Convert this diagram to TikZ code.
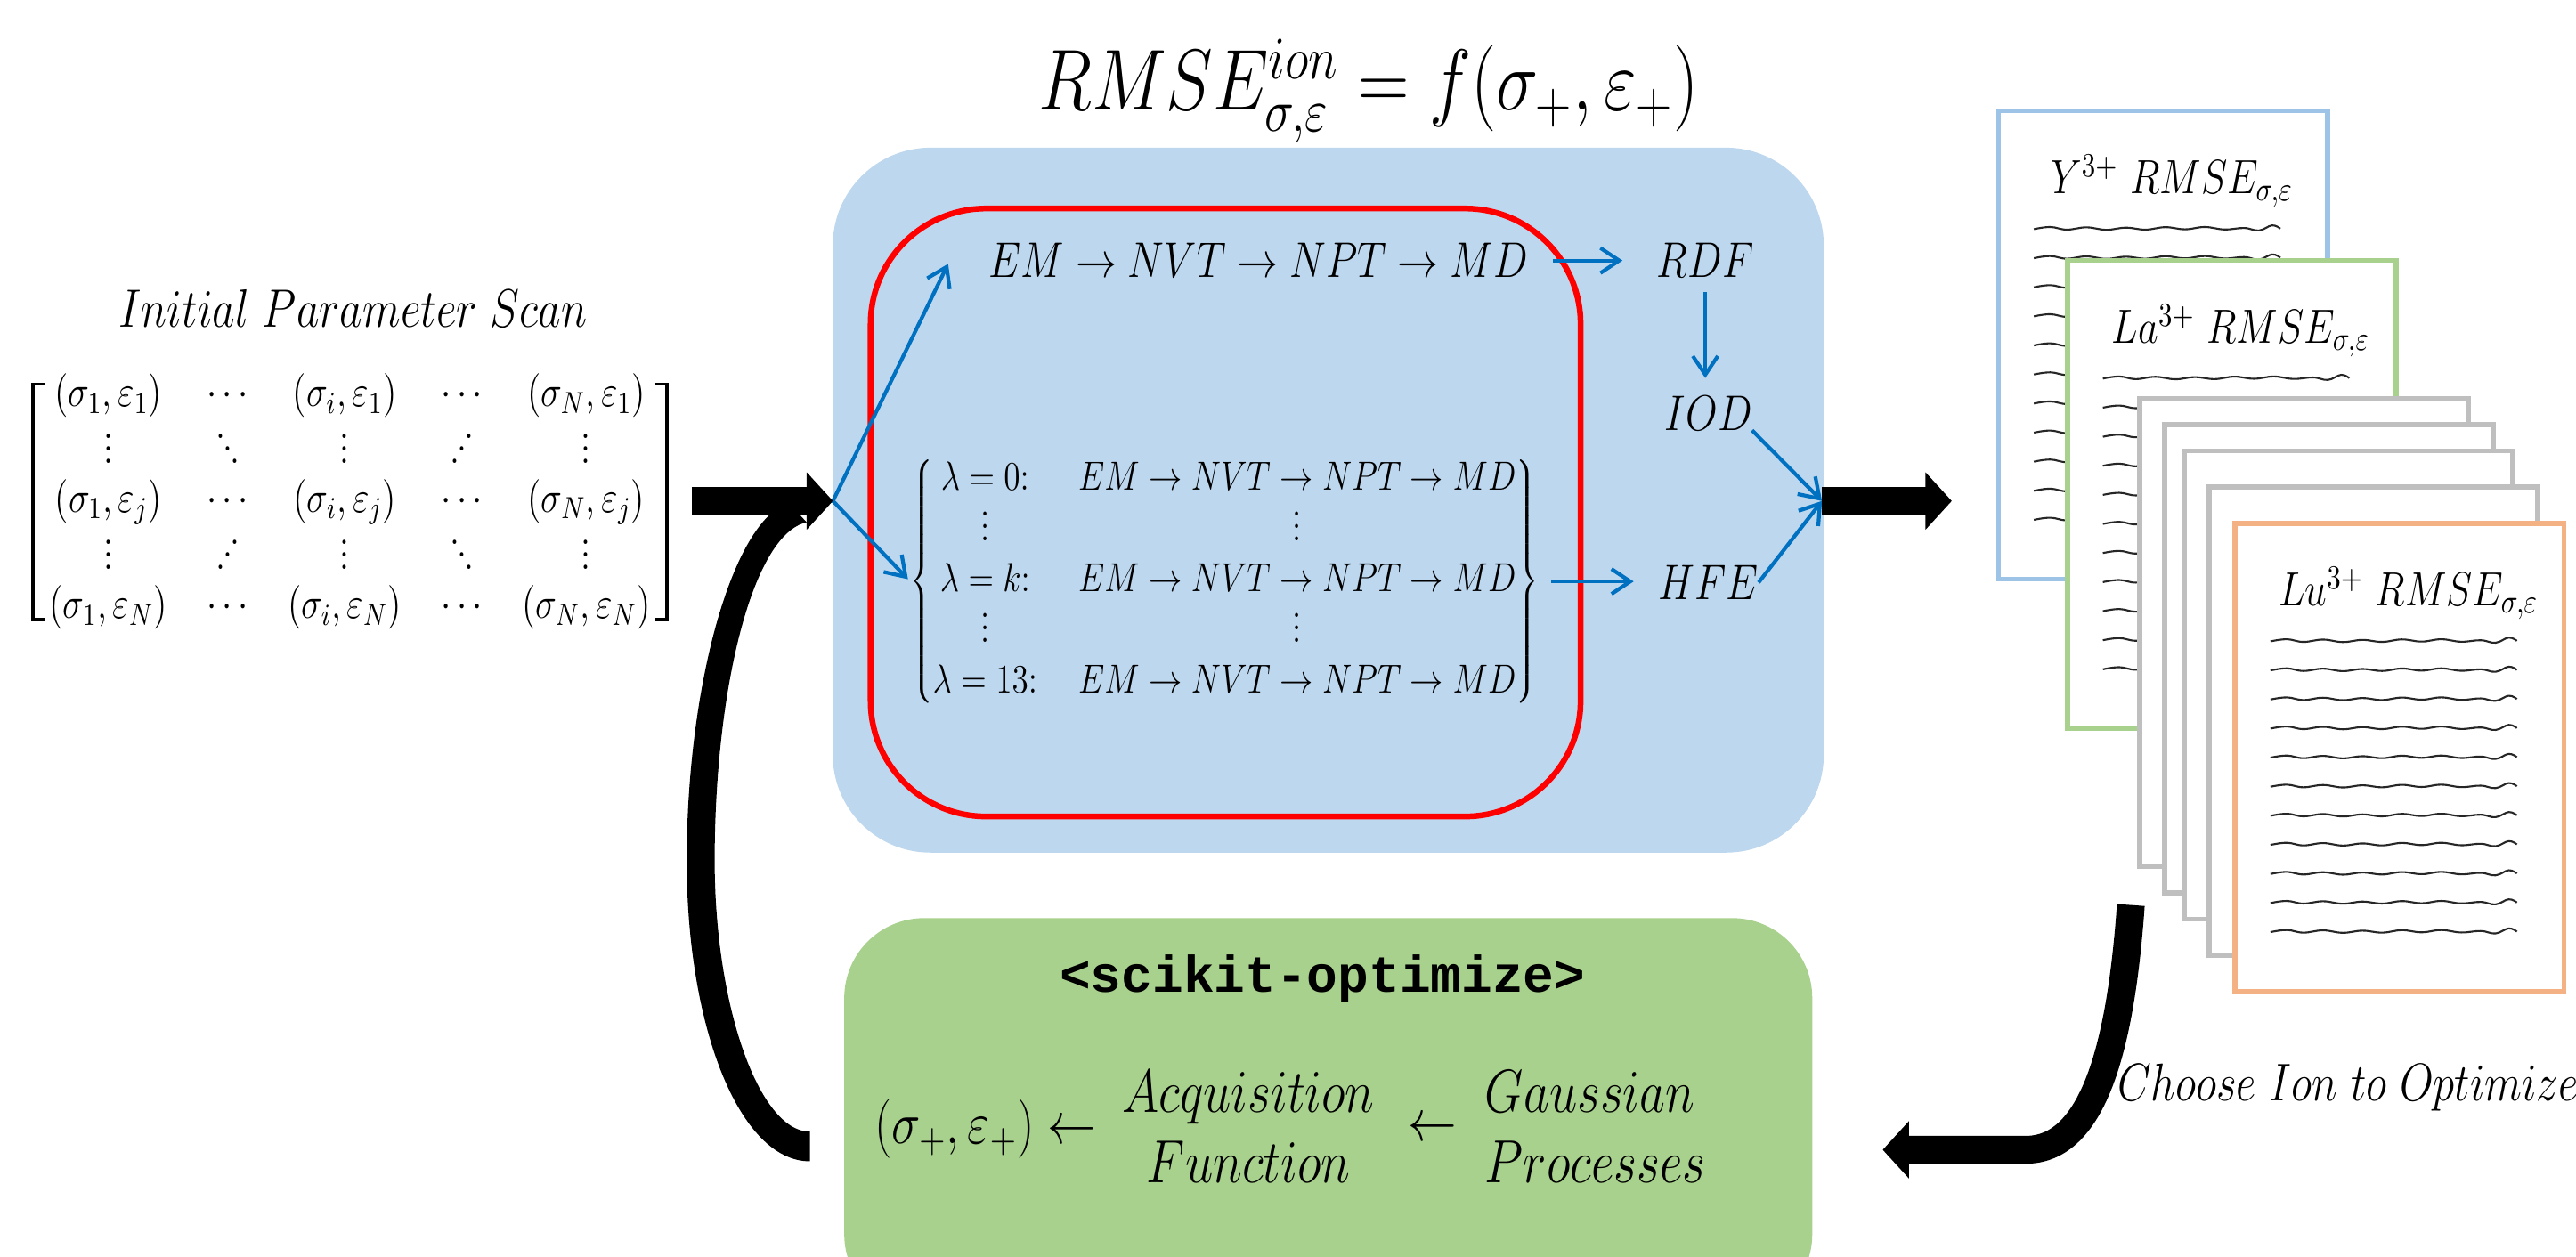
\RequirePackage{fix-cm}
\documentclass[tikz,border=0pt]{standalone}
\usepackage{fontspec}
\usepackage{graphicx}
\usetikzlibrary{arrows.meta,matrix}
\newfontfamily\monob{Liberation Mono}
\definecolor{boxblue}{HTML}{BDD7EE}
\definecolor{boxgreen}{HTML}{A9D18E}
\definecolor{arrblue}{HTML}{0070C0}
\definecolor{pblue}{HTML}{9DC3E6}
\definecolor{pgreen}{HTML}{A9D18E}
\definecolor{pgray}{HTML}{BFBFBF}
\definecolor{porange}{HTML}{F4B183}
\newcommand\cmx[1]{\scalebox{0.82}[1]{$#1$}}
\newcommand\fsz[1]{\fontsize{#1}{#1}\selectfont}
\newcommand\tvdots{\vbox{\baselineskip4pt\lineskiplimit0pt\hbox{.}\hbox{.}\hbox{.}}}
\newcommand\tddots{\hbox{\raise8pt\hbox{.}\kern-1pt\raise4pt\hbox{.}\kern-1pt\hbox{.}}}
\newcommand\tiddots{\hbox{\hbox{.}\kern-1pt\raise4pt\hbox{.}\kern-1pt\raise8pt\hbox{.}}}
\newcommand\mkpaper[5]{%
  \node[paperbox,draw=#4] (#1) at (#2,#3) {};
  \foreach \k in {0,...,10}{%
    \draw[wav,shift={(#2+23,#3+73+17.7*\k)}] plot[smooth,tension=0.7] coordinates {(0,0.5) (10,-0.8) (20,0.8) (32,-0.6) (44,0.9) (56,-0.4) (68,0.8) (80,-0.7) (92,0.6) (104,-0.8) (116,0.7) (128,-0.2) (137,1.3) (145,-1.8) (150,0.2)};}
  \node[lbl,anchor=base] (#1t) at (#2+107,#3+52) {\fsz{15.4}\cmx{#5}};
}
\begin{document}
\begin{tikzpicture}[x=0.0185cm,y=-0.0185cm,
  lbl/.style={inner sep=0pt,outer sep=0pt},
  barrow/.style={draw=arrblue,line width=1.2pt,-{Straight Barb[length=6pt 0 0,width=8pt 0 0]}},
  fat/.style={draw=black,line width=8.9pt},
  fattip/.style={-{Triangle[length=8.4pt 0 0,width=17.9pt 0 0]}},
  paperbox/.style={anchor=north west,fill=white,line width=1.6pt,inner sep=0pt,minimum width=3.7cm,minimum height=5.2725cm},
  wav/.style={line width=0.6pt,black!85},
]
\useasboundingbox (0,0) rectangle (1568,765);
\clip (0,0) rectangle (1568,765);

% main boxes
\node[lbl,fill=boxblue,rounded corners=1.1cm,minimum width=11.155cm,minimum height=7.937cm] (sim) at (808.5,304.5) {};
\node[lbl,draw=red,line width=1.85pt,rounded corners=1.3cm,minimum width=7.992cm,minimum height=6.845cm] (loop) at (746,312) {};
\node[lbl,fill=boxgreen,rounded corners=0.9cm,minimum width=10.8965cm,minimum height=4.4585cm] (skopt) at (808.5,679.5) {};

% title
\node[lbl,anchor=base] (title) at (833,67) {\fsz{27.7}\cmx{RMSE^{ion}_{\sigma,\varepsilon}=f(\sigma_+,\varepsilon_+)}};

% initial scan
\node[lbl,anchor=base] (scan) at (215,199) {\fsz{17.3}\cmx{Initial\ Parameter\ Scan}};
\matrix (mat) [matrix of nodes,inner sep=0pt,column sep=0.0765cm,row sep=0.0466cm,
  nodes={lbl,anchor=center,minimum width=1.2cm,minimum height=0.55cm,font=\fsz{14}}] at (213,305.5) {
\cmx{(\sigma_1,\varepsilon_1)} & \cmx{\cdots} & \cmx{(\sigma_i,\varepsilon_1)} & \cmx{\cdots} & \cmx{(\sigma_N,\varepsilon_1)} \\
\cmx{\tvdots} & \cmx{\tddots} & \cmx{\tvdots} & \cmx{\tiddots} & \cmx{\tvdots} \\
\cmx{(\sigma_1,\varepsilon_j)} & \cmx{\cdots} & \cmx{(\sigma_i,\varepsilon_j)} & \cmx{\cdots} & \cmx{(\sigma_N,\varepsilon_j)} \\
\cmx{\tvdots} & \cmx{\tiddots} & \cmx{\tvdots} & \cmx{\tddots} & \cmx{\tvdots} \\
\cmx{(\sigma_1,\varepsilon_N)} & \cmx{\cdots} & \cmx{(\sigma_i,\varepsilon_N)} & \cmx{\cdots} & \cmx{(\sigma_N,\varepsilon_N)} \\
};
\draw[line width=1pt] ([shift={(-2.5,8)}]mat.north west) -- ([shift={(-9.5,8)}]mat.north west) -- ([shift={(-9.5,-8)}]mat.south west) -- ([shift={(-2.5,-8)}]mat.south west);
\draw[line width=1pt] ([shift={(2.5,8)}]mat.north east) -- ([shift={(9.5,8)}]mat.north east) -- ([shift={(9.5,-8)}]mat.south east) -- ([shift={(2.5,-8)}]mat.south east);

% simulation contents
\node[lbl,anchor=base] (chain) at (766,169) {\fsz{16}\cmx{EM\to NVT\to NPT\to MD}};
\node[lbl,anchor=west] (sys) at (554,354) {\fontsize{13}{16.3}\selectfont\cmx{\left\{\begin{array}{@{}c@{\hspace{16pt}}c@{}}\lambda=0{:} & EM\to NVT\to NPT\to MD\\ \tvdots & \tvdots\\ \lambda=k{:} & EM\to NVT\to NPT\to MD\\ \tvdots & \tvdots\\ \lambda=13{:} & EM\to NVT\to NPT\to MD\end{array}\right\}}};
\node[lbl,anchor=base] (rdf) at (1038,169) {\fsz{16}\cmx{RDF}};
\node[lbl,anchor=base] (iod) at (1040,262) {\fsz{16}\cmx{IOD}};
\node[lbl,anchor=base] (hfe) at (1040,365) {\fsz{16}\cmx{HFE}};

\coordinate (jin) at (507,305);
\coordinate (jout) at (1109,305);
\coordinate (scanout) at (421,305);
\coordinate (bandtop) at (1297,551);
\coordinate (backtip) at (1146,700);

\draw[barrow] (jin) -- ([shift={(-25,2)}]chain.west);
\draw[barrow,shorten >=1pt] (jin) -- (sys.west);
\draw[barrow,shorten <=8pt,shorten >=11pt] (chain.east) -- (rdf.west);
\draw[barrow,shorten <=4.7pt,shorten >=5.8pt] (rdf.south) -- (rdf.south |- iod.north);
\draw[barrow,shorten <=4pt,shorten >=8pt] (sys.east) -- (sys.east -| hfe.west);
\draw[barrow] (iod.south east) -- (jout);
\draw[barrow] (hfe.east) -- (jout);

% optimizer box contents
\node[lbl,anchor=base] (sko) at (805,604) {\fsz{16.5}\monob\bfseries <scikit-optimize>};
\node[lbl] (sig) at (600,687) {\fsz{19}\cmx{(\sigma_+,\varepsilon_+)\leftarrow}};
\node[lbl,anchor=north,align=center,font=\fontsize{19.5}{22.6}\selectfont] (acq) at (760,652) {\cmx{Acquisition}\\\cmx{Function}};
\node[lbl] (larr) at (872,688) {\fsz{19}\cmx{\leftarrow}};
\node[lbl,anchor=north west,align=left,font=\fontsize{19.5}{22.6}\selectfont] (gp) at (904,652) {\cmx{Gaussian}\\\cmx{Processes}};

% result sheets
\mkpaper{pY}{1215}{66}{pblue}{Y^{3+}\ RMSE_{\sigma,\varepsilon}}
\mkpaper{pLa}{1257}{157}{pgreen}{La^{3+}\ RMSE_{\sigma,\varepsilon}}
\node[paperbox,draw=pgray] (g1) at (1301,241) {};
\node[paperbox,draw=pgray] (g2) at (1316,257) {};
\node[paperbox,draw=pgray] (g3) at (1328,273) {};
\node[paperbox,draw=pgray] (g4) at (1343,295) {};
\mkpaper{pLu}{1359}{317}{porange}{Lu^{3+}\ RMSE_{\sigma,\varepsilon}}
\node[lbl,anchor=base west] (choose) at (1289,670) {\fsz{17}\cmx{Choose\ Ion\ to\ Optimize}};

% thick black arrows
\draw[fat,fattip] (scanout) -- (jin);
\fill (493,707) .. controls (450,707) and (418,625) .. (418,524) .. controls (418,420) and (445,318) .. (480,306) -- (491,318) .. controls (458,325) and (435,420) .. (435,524) .. controls (435,612) and (462,689) .. (493,689) -- cycle;
\draw[fat,fattip,shorten >=14.2pt] (jout) -- (jout -| pY.west);
\draw[fat,fattip] (bandtop) .. controls (1290,650) and (1270,700) .. (1233,700) -- (backtip);
\end{tikzpicture}
\end{document}
